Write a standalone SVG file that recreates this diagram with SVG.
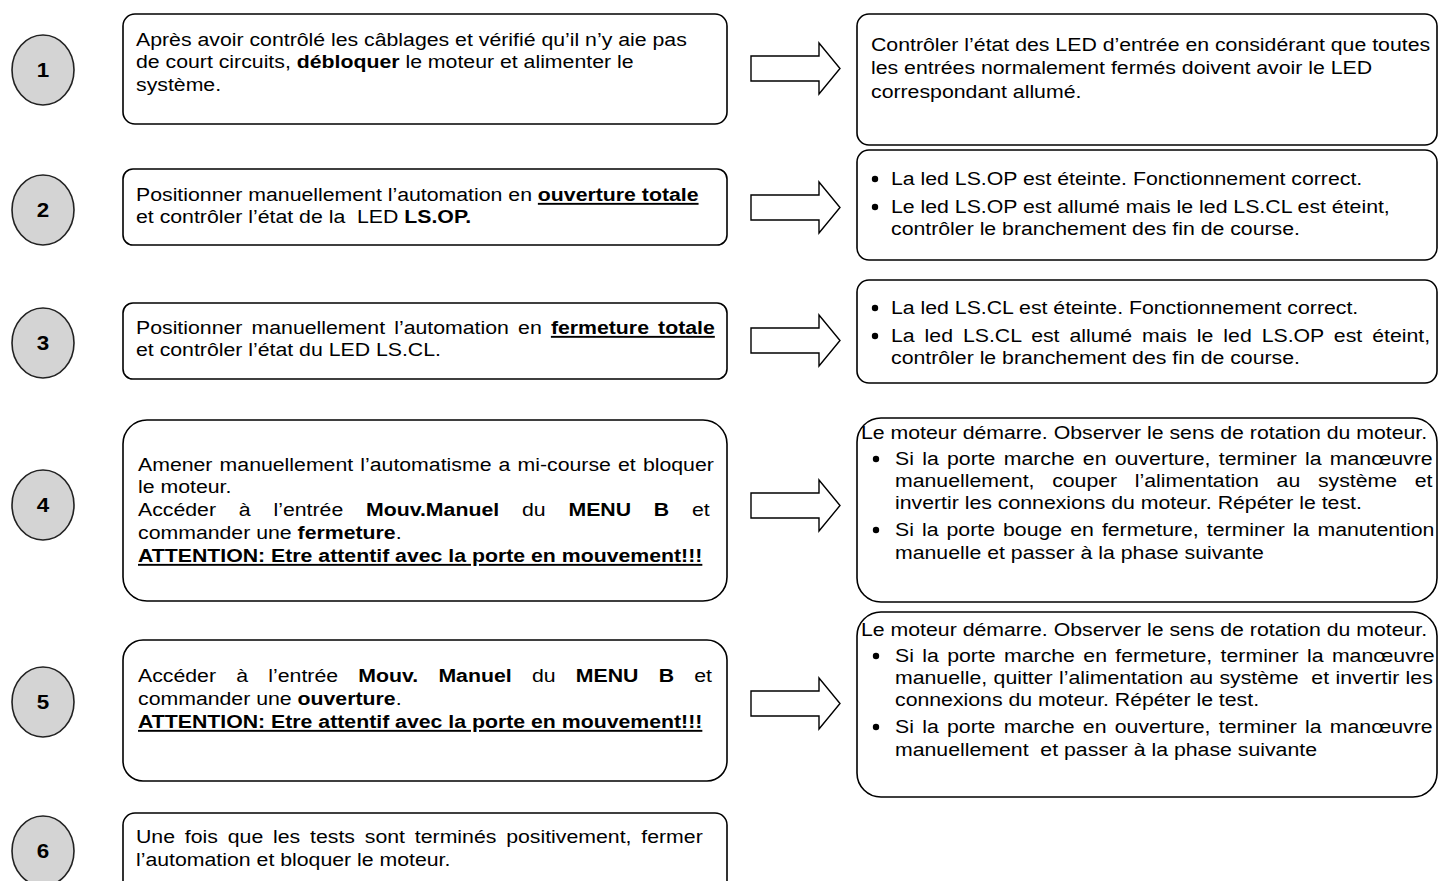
<svg xmlns="http://www.w3.org/2000/svg" width="1438" height="881" viewBox="0 0 1438 881">
<style>
text{font-family:"Liberation Sans",Arial,sans-serif;font-size:19px;fill:#000;white-space:pre}
.b{font-weight:bold}
.u{text-decoration:underline}
.num{font-weight:bold;font-size:20px;text-anchor:middle}
.box{fill:#fff;stroke:#000;stroke-width:1.6}
.circ{fill:#d4d4d4;stroke:#222;stroke-width:1.6}
.arr{fill:#fff;stroke:#000;stroke-width:1.4}
.dot{fill:#000}
</style>
<rect width="1438" height="881" fill="#fff"/>

<g id="step1">
<ellipse class="circ" cx="43" cy="70" rx="31" ry="35"/>
<text class="num" transform="translate(43 77) scale(1.12 1)">1</text>
</g>
<g id="box1">
<rect class="box" x="123" y="14" width="604" height="110" rx="12"/>
<text transform="translate(136 46) scale(1.12 1)">Après avoir contrôlé les câblages et vérifié qu’il n’y aie pas</text>
<text transform="translate(136 68) scale(1.12 1)">de court circuits, <tspan class="b">débloquer</tspan> le moteur et alimenter le</text>
<text transform="translate(136 91) scale(1.12 1)">système.</text>
</g>
<g id="res1">
<rect class="box" x="857" y="14" width="580" height="131" rx="12"/>
<text transform="translate(871 51) scale(1.12 1)">Contrôler l’état des LED d’entrée en considérant que toutes</text>
<text transform="translate(871 74) scale(1.12 1)">les entrées normalement fermés doivent avoir le LED</text>
<text transform="translate(871 98) scale(1.12 1)">correspondant allumé.</text>
</g>

<g id="step2">
<ellipse class="circ" cx="43" cy="210" rx="31" ry="35"/>
<text class="num" transform="translate(43 217) scale(1.12 1)">2</text>
</g>
<g id="box2">
<rect class="box" x="123" y="169" width="604" height="76" rx="10"/>
<text transform="translate(136 201) scale(1.12 1)">Positionner manuellement l’automation en <tspan class="b u">ouverture totale</tspan></text>
<text transform="translate(136 223) scale(1.12 1)">et contrôler l’état de la  LED <tspan class="b">LS.OP.</tspan></text>
</g>
<g id="res2">
<rect class="box" x="857" y="150" width="580" height="110" rx="12"/>
<circle class="dot" cx="875" cy="179" r="3.2"/>
<text transform="translate(891 185) scale(1.12 1)">La led LS.OP est éteinte. Fonctionnement correct.</text>
<circle class="dot" cx="875" cy="207" r="3.2"/>
<text transform="translate(891 213) scale(1.12 1)">Le led LS.OP est allumé mais le led LS.CL est éteint,</text>
<text transform="translate(891 235) scale(1.12 1)">contrôler le branchement des fin de course.</text>
</g>

<g id="step3">
<ellipse class="circ" cx="43" cy="343" rx="31" ry="35"/>
<text class="num" transform="translate(43 350) scale(1.12 1)">3</text>
</g>
<g id="box3">
<rect class="box" x="123" y="303" width="604" height="76" rx="10"/>
<text transform="translate(136 334) scale(1.12 1)" word-spacing="2.9">Positionner manuellement l’automation en <tspan class="b u">fermeture totale</tspan></text>
<text transform="translate(136 356) scale(1.12 1)">et contrôler l’état du LED LS.CL.</text>
</g>
<g id="res3">
<rect class="box" x="857" y="280" width="580" height="103" rx="12"/>
<circle class="dot" cx="875" cy="308" r="3.2"/>
<text transform="translate(891 314) scale(1.12 1)">La led LS.CL est éteinte. Fonctionnement correct.</text>
<circle class="dot" cx="875" cy="336" r="3.2"/>
<text transform="translate(891 342) scale(1.12 1)" word-spacing="3.6">La led LS.CL est allumé mais le led LS.OP est éteint,</text>
<text transform="translate(891 364) scale(1.12 1)">contrôler le branchement des fin de course.</text>
</g>

<g id="step4">
<ellipse class="circ" cx="43" cy="505" rx="31" ry="35"/>
<text class="num" transform="translate(43 512) scale(1.12 1)">4</text>
</g>
<g id="box4">
<rect class="box" x="123" y="420" width="604" height="181" rx="24"/>
<text transform="translate(138 471) scale(1.12 1)" word-spacing="1.1">Amener manuellement l’automatisme a mi-course et bloquer</text>
<text transform="translate(138 493) scale(1.12 1)">le moteur.</text>
<text transform="translate(138 516) scale(1.12 1)" word-spacing="15.1">Accéder à l’entrée <tspan class="b">Mouv.Manuel</tspan> du <tspan class="b">MENU B</tspan> et</text>
<text transform="translate(138 539) scale(1.12 1)">commander une <tspan class="b">fermeture</tspan>.</text>
<text class="b u" transform="translate(138 562) scale(1.12 1)">ATTENTION: Etre attentif avec la porte en mouvement!!!</text>
</g>
<g id="res4">
<rect class="box" x="857" y="418" width="580" height="184" rx="24"/>
<text transform="translate(861 439) scale(1.12 1)">Le moteur démarre. Observer le sens de rotation du moteur.</text>
<circle class="dot" cx="876" cy="459" r="3.2"/>
<text transform="translate(895 465) scale(1.12 1)" word-spacing="2.1">Si la porte marche en ouverture, terminer la manœuvre</text>
<text transform="translate(895 487) scale(1.12 1)" word-spacing="10.5">manuellement, couper l’alimentation au système et</text>
<text transform="translate(895 509) scale(1.12 1)">invertir les connexions du moteur. Répéter le test.</text>
<circle class="dot" cx="876" cy="530" r="3.2"/>
<text transform="translate(895 536) scale(1.12 1)" word-spacing="1.9">Si la porte bouge en fermeture, terminer la manutention</text>
<text transform="translate(895 559) scale(1.12 1)">manuelle et passer à la phase suivante</text>
</g>

<g id="step5">
<ellipse class="circ" cx="43" cy="702" rx="31" ry="35"/>
<text class="num" transform="translate(43 709) scale(1.12 1)">5</text>
</g>
<g id="box5">
<rect class="box" x="123" y="640" width="604" height="141" rx="20"/>
<text transform="translate(138 682) scale(1.12 1)" word-spacing="12.8">Accéder à l’entrée <tspan class="b">Mouv. Manuel</tspan> du <tspan class="b">MENU B</tspan> et</text>
<text transform="translate(138 705) scale(1.12 1)">commander une <tspan class="b">ouverture</tspan>.</text>
<text class="b u" transform="translate(138 728) scale(1.12 1)">ATTENTION: Etre attentif avec la porte en mouvement!!!</text>
</g>
<g id="res5">
<rect class="box" x="857" y="612" width="580" height="185" rx="24"/>
<text transform="translate(861 636) scale(1.12 1)">Le moteur démarre. Observer le sens de rotation du moteur.</text>
<circle class="dot" cx="876" cy="656" r="3.2"/>
<text transform="translate(895 662) scale(1.12 1)" word-spacing="2.2">Si la porte marche en fermeture, terminer la manœuvre</text>
<text transform="translate(895 684) scale(1.12 1)" word-spacing="0.4">manuelle, quitter l’alimentation au système  et invertir les</text>
<text transform="translate(895 706) scale(1.12 1)">connexions du moteur. Répéter le test.</text>
<circle class="dot" cx="876" cy="727" r="3.2"/>
<text transform="translate(895 733) scale(1.12 1)" word-spacing="2.1">Si la porte marche en ouverture, terminer la manœuvre</text>
<text transform="translate(895 756) scale(1.12 1)">manuellement  et passer à la phase suivante</text>
</g>

<g id="step6">
<ellipse class="circ" cx="43" cy="851" rx="31" ry="35"/>
<text class="num" transform="translate(43 858) scale(1.12 1)">6</text>
</g>
<g id="box6">
<rect class="box" x="123" y="813" width="604" height="100" rx="12"/>
<text transform="translate(136 843) scale(1.12 1)" word-spacing="3.5">Une fois que les tests sont terminés positivement, fermer</text>
<text transform="translate(136 866) scale(1.12 1)">l’automation et bloquer le moteur.</text>
</g>

<g id="connectors">
<path class="arr" d="M751,56 H819 V43 L840,68.5 L819,94 V81 H751 Z"/>
<path class="arr" d="M751,195 H819 V182 L840,207.5 L819,233 V220 H751 Z"/>
<path class="arr" d="M751,328 H819 V315 L840,340.5 L819,366 V353 H751 Z"/>
<path class="arr" d="M751,493 H819 V480 L840,505.5 L819,531 V518 H751 Z"/>
<path class="arr" d="M751,691 H819 V678 L840,703.5 L819,729 V716 H751 Z"/>
</g>
</svg>
